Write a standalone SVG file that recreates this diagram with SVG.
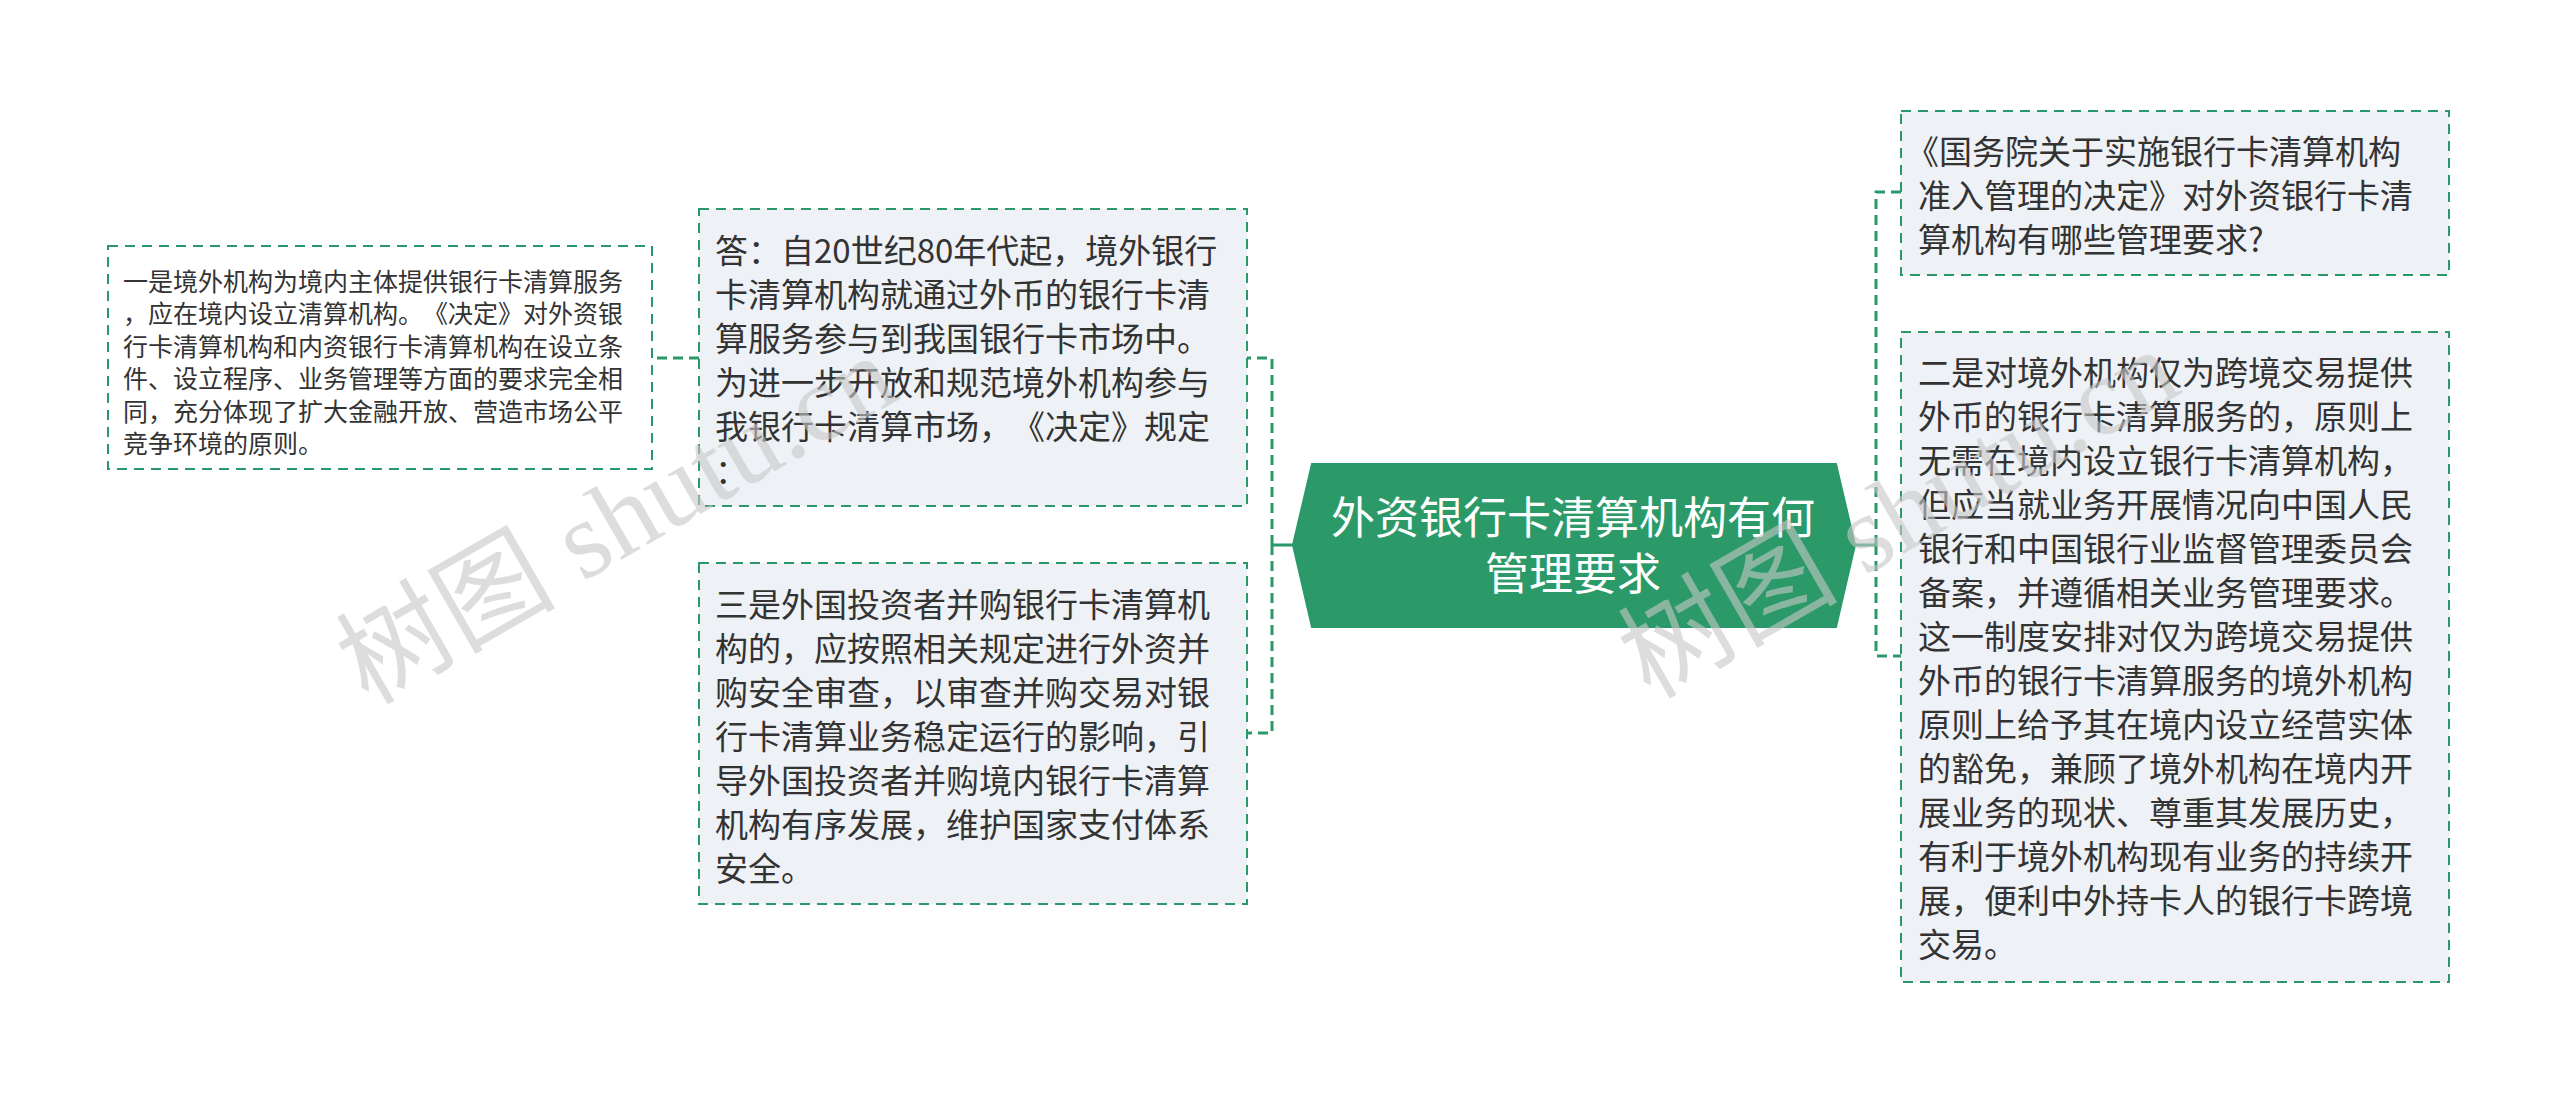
<svg xmlns="http://www.w3.org/2000/svg" width="2560" height="1093" viewBox="0 0 2560 1093">
<style>
text{text-spacing-trim:space-all}
.box{fill:#eef1f5;stroke:#2a9868;stroke-width:2;stroke-dasharray:10 7}
.box2{fill:#ffffff;stroke:#2a9868;stroke-width:2;stroke-dasharray:10 7}
.t{font-family:"Noto Sans CJK SC","Noto Sans",sans-serif;font-size:33px;fill:#333333}
.ts{font-family:"Noto Sans CJK SC","Noto Sans",sans-serif;font-size:25px;fill:#333333}
.tc{font-family:"Noto Sans CJK SC","Noto Sans",sans-serif;font-size:44px;fill:#ffffff;text-anchor:middle}
.edge{fill:none;stroke:#2a9868;stroke-width:3;stroke-dasharray:10 6}
.solid{fill:none;stroke:#2a9868;stroke-width:3}
.wm{font-family:"Liberation Serif","Noto Sans CJK SC",serif;font-size:110px;fill:#c8c8c8;opacity:0.6}
</style>
<rect width="2560" height="1093" fill="#ffffff"/>
<g id="connectors">
<path class="solid" d="M1293,545 L1272,545"/>
<path class="edge" d="M1272,545 L1272,358 L1247,358"/>
<path class="edge" d="M1272,545 L1272,733 L1247,733"/>
<path class="edge" d="M699,358 L652,358"/>
<path class="solid" d="M1855,545 L1876,545"/>
<path class="edge" d="M1876,545 L1876,192 L1901,192"/>
<path class="edge" d="M1876,545 L1876,656 L1901,656"/>
</g>
<g id="root">
<polygon points="1293,545 1312,464 1836,464 1855,545 1836,627 1312,627" fill="#2b9a68" stroke="#2a9868" stroke-width="2"/>
<text class="tc"><tspan x="1573" y="534">外资银行卡清算机构有何</tspan><tspan x="1573" y="590">管理要求</tspan></text>
</g>
<g id="node-answer">
<rect class="box" x="699" y="209" width="548" height="297"/>
<text class="t"><tspan x="715" y="263">答：自20世纪80年代起，境外银行</tspan><tspan x="715" y="307">卡清算机构就通过外币的银行卡清</tspan><tspan x="715" y="351">算服务参与到我国银行卡市场中。</tspan><tspan x="715" y="395">为进一步开放和规范境外机构参与</tspan><tspan x="715" y="439">我银行卡清算市场，《决定》规定</tspan><tspan x="715" y="483">：</tspan></text>
</g>
<g id="node-one">
<rect class="box2" x="108" y="246" width="544" height="223"/>
<text class="ts"><tspan x="123" y="291">一是境外机构为境内主体提供银行卡清算服务</tspan><tspan x="123" y="323">，应在境内设立清算机构。《决定》对外资银</tspan><tspan x="123" y="356">行卡清算机构和内资银行卡清算机构在设立条</tspan><tspan x="123" y="388">件、设立程序、业务管理等方面的要求完全相</tspan><tspan x="123" y="421">同，充分体现了扩大金融开放、营造市场公平</tspan><tspan x="123" y="453">竞争环境的原则。</tspan></text>
</g>
<g id="node-three">
<rect class="box" x="699" y="563" width="548" height="341"/>
<text class="t"><tspan x="715" y="617">三是外国投资者并购银行卡清算机</tspan><tspan x="715" y="661">构的，应按照相关规定进行外资并</tspan><tspan x="715" y="705">购安全审查，以审查并购交易对银</tspan><tspan x="715" y="749">行卡清算业务稳定运行的影响，引</tspan><tspan x="715" y="793">导外国投资者并购境内银行卡清算</tspan><tspan x="715" y="837">机构有序发展，维护国家支付体系</tspan><tspan x="715" y="881">安全。</tspan></text>
</g>
<g id="node-question">
<rect class="box" x="1901" y="111" width="548" height="164"/>
<text class="t"><tspan x="1906" y="164">《国务院关于实施银行卡清算机构</tspan><tspan x="1918" y="208">准入管理的决定》对外资银行卡清</tspan><tspan x="1918" y="252">算机构有哪些管理要求?</tspan></text>
</g>
<g id="node-two">
<rect class="box" x="1901" y="332" width="548" height="650"/>
<text class="t"><tspan x="1918" y="385">二是对境外机构仅为跨境交易提供</tspan><tspan x="1918" y="429">外币的银行卡清算服务的，原则上</tspan><tspan x="1918" y="473">无需在境内设立银行卡清算机构，</tspan><tspan x="1918" y="517">但应当就业务开展情况向中国人民</tspan><tspan x="1918" y="561">银行和中国银行业监督管理委员会</tspan><tspan x="1918" y="605">备案，并遵循相关业务管理要求。</tspan><tspan x="1918" y="649">这一制度安排对仅为跨境交易提供</tspan><tspan x="1918" y="693">外币的银行卡清算服务的境外机构</tspan><tspan x="1918" y="737">原则上给予其在境内设立经营实体</tspan><tspan x="1918" y="781">的豁免，兼顾了境外机构在境内开</tspan><tspan x="1918" y="825">展业务的现状、尊重其发展历史，</tspan><tspan x="1918" y="869">有利于境外机构现有业务的持续开</tspan><tspan x="1918" y="913">展，便利中外持卡人的银行卡跨境</tspan><tspan x="1918" y="957">交易。</tspan></text>
</g>
<g id="watermarks">
<text class="wm" transform="translate(368,706) rotate(-30)">树图 shutu.cn</text>
<text class="wm" transform="translate(1650,700) rotate(-30)">树图 shutu.cn</text>
</g>
</svg>
